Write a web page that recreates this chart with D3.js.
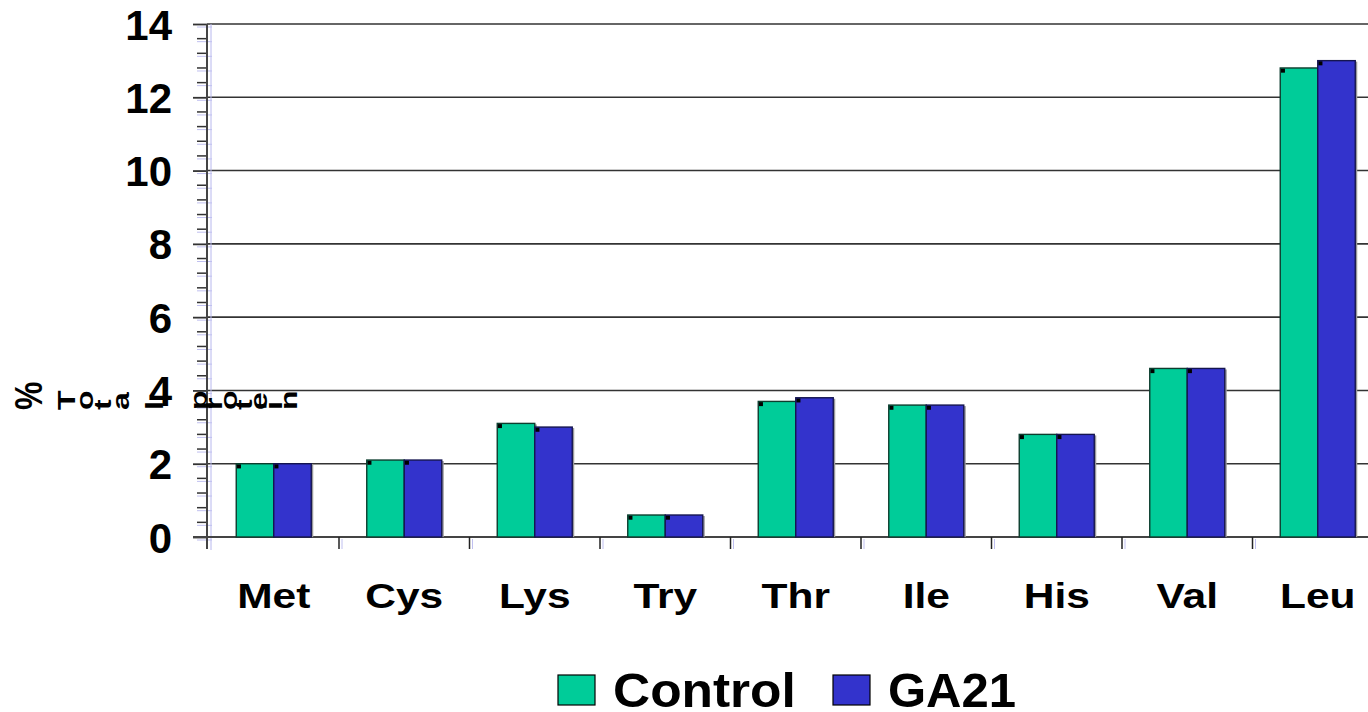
<!DOCTYPE html>
<html>
<head>
<meta charset="utf-8">
<script src="https://cdn.jsdelivr.net/npm/d3@7"></script>
<style>
html,body{margin:0;padding:0;background:#fff;}
svg{display:block;font-family:"Liberation Sans",Arial,sans-serif;font-weight:bold;}
</style>
</head>
<body>
<svg id="chart" width="1368" height="712"></svg>
<script>
const categories = ["Met","Cys","Lys","Try","Thr","Ile","His","Val","Leu"];
const controlValues = [2.0, 2.1, 3.1, 0.6, 3.7, 3.6, 2.8, 4.6, 12.8];
const ga21Values = [2.0, 2.1, 3.0, 0.6, 3.8, 3.6, 2.8, 4.6, 13.0];
const seriesNames = ["Control","GA21"];
const seriesColors = ["#00CC99","#3333CC"];
const seriesStrokes = ["#0d3d2e","#151550"];
const yTicks = [0,2,4,6,8,10,12,14];
const yLabelWords = ["%", "Total", "protein"];

const svg = d3.select("#chart");
const W = 1368, H = 712;

const y = d3.scaleLinear().domain([0,14]).range([537,24]);
const x = d3.scaleBand().domain(categories).range([208.5, 208.5 + 130.5*9]).padding(0);
const barW = 37.5;
const xSub = d3.scaleBand().domain(seriesNames).range([-barW, barW]).padding(0);

svg.append("g").selectAll("line").data(yTicks.filter(d=>d>0)).join("line")
  .attr("x1",207).attr("x2",W).attr("y1",d=>y(d)).attr("y2",d=>y(d))
  .attr("stroke","#333").attr("stroke-width",1.6);

svg.append("line").attr("x1",211).attr("x2",211).attr("y1",24).attr("y2",550)
  .attr("stroke","#b8b8ee").attr("stroke-width",1);
const blueTicks = d3.range(0, 14.01, 0.4);
svg.append("g").selectAll("line").data(blueTicks).join("line")
  .attr("x1",197).attr("x2",212).attr("y1",d=>y(d)+3).attr("y2",d=>y(d)+3)
  .attr("stroke","#c0c0f0").attr("stroke-width",1);

const minorTicks = d3.range(0, 14.01, 0.4).filter(v => Math.abs(v/2 - Math.round(v/2)) > 0.01);
svg.append("g").selectAll("line").data(minorTicks).join("line")
  .attr("x1",197).attr("x2",207).attr("y1",d=>y(d)).attr("y2",d=>y(d))
  .attr("stroke","#333").attr("stroke-width",1.5);

const yAxis = d3.axisLeft(y).tickValues(yTicks).tickSize(14).tickPadding(21).tickFormat(d3.format("d"));
const yg = svg.append("g").attr("transform","translate(207,0)").call(yAxis);
yg.select(".domain").remove();
yg.selectAll(".tick line").attr("stroke","#333").attr("stroke-width",1.8);
yg.selectAll(".tick text").attr("font-size",42).attr("font-weight","bold")
  .attr("font-family","'Liberation Sans',Arial,sans-serif").attr("fill","#000").attr("dy","0.36em");
svg.append("line").attr("x1",207).attr("x2",207).attr("y1",24).attr("y2",549)
  .attr("stroke","#444").attr("stroke-width",2);

svg.append("line").attr("x1",193).attr("x2",W).attr("y1",537).attr("y2",537)
  .attr("stroke","#444").attr("stroke-width",1.8);
const boundaries = categories.slice(1).map(c => x(c));
svg.append("g").selectAll("line").data(boundaries).join("line")
  .attr("x1",d=>d).attr("x2",d=>d).attr("y1",537).attr("y2",549)
  .attr("stroke","#222").attr("stroke-width",1.5);
svg.append("g").selectAll("line").data(boundaries).join("line")
  .attr("x1",d=>d+3).attr("x2",d=>d+3).attr("y1",539).attr("y2",549)
  .attr("stroke","#c0c0f0").attr("stroke-width",1);

const data = categories.map((c,i)=>({cat:c, vals:[controlValues[i], ga21Values[i]]}));
const groups = svg.append("g").selectAll("g").data(data).join("g")
  .attr("transform", d => `translate(${x(d.cat)+x.bandwidth()/2},0)`);
groups.each(function(d){
  const g = d3.select(this);
  d.vals.forEach((v,si)=>{
    const bx = xSub(seriesNames[si]);
    g.append("rect").attr("x",bx+barW).attr("y",y(v)+1).attr("width",2).attr("height",y(0)-y(v)-1)
      .attr("fill","#999");
    g.append("rect").attr("x",bx).attr("y",y(v)).attr("width",barW).attr("height",y(0)-y(v))
      .attr("fill",seriesColors[si]).attr("stroke",seriesStrokes[si]).attr("stroke-width",1.4);
    g.append("rect").attr("x",bx+0.7).attr("y",y(v)+0.7).attr("width",4).attr("height",4)
      .attr("fill","#000");
  });
});

svg.append("g").selectAll("text").data(categories).join("text")
  .attr("transform", d => `translate(${x(d)+x.bandwidth()/2},608) scale(1.18,1)`)
  .attr("text-anchor","middle").attr("font-size",36).attr("font-weight","bold")
  .attr("fill","#000").text(d=>d);

// y label: glyphs rotated one by one (as in the original rendering)
const wordLayout = [
  {start:42, step:0, sx:1.2},
  {start:75, step:18, sx:0.75},
  {start:207, step:15, sx:0.75}
];
const yl = svg.append("g");
yLabelWords.forEach((w,wi)=>{
  const L = wordLayout[wi];
  Array.from(w).forEach((ch,ci)=>{
    let bx = L.start + ci*L.step;
    if (wi===1 && ch==="l") bx += 16;
    yl.append("text").attr("x",0).attr("y",0)
      .attr("transform",`translate(${bx},410) scale(${L.sx},1) rotate(-90)`)
      .attr("text-anchor","start")
      .attr("font-size",32).attr("font-weight","bold").attr("fill","#000")
      .text(ch);
  });
});

const legendX = [558, 833];
const lg = svg.append("g").selectAll("g").data(seriesNames).join("g")
  .attr("transform",(d,i)=>`translate(${legendX[i]},675)`);
lg.append("rect").attr("width",37).attr("height",30)
  .attr("fill",(d,i)=>seriesColors[i]).attr("stroke","#000").attr("stroke-width",1.2);
lg.append("text")
  .attr("transform",(d,i)=>`translate(55,32) scale(${i===0?1.05:1},1)`)
  .attr("font-size",49).attr("font-weight","bold").attr("fill","#000").text(d=>d);
</script>
</body>
</html>
